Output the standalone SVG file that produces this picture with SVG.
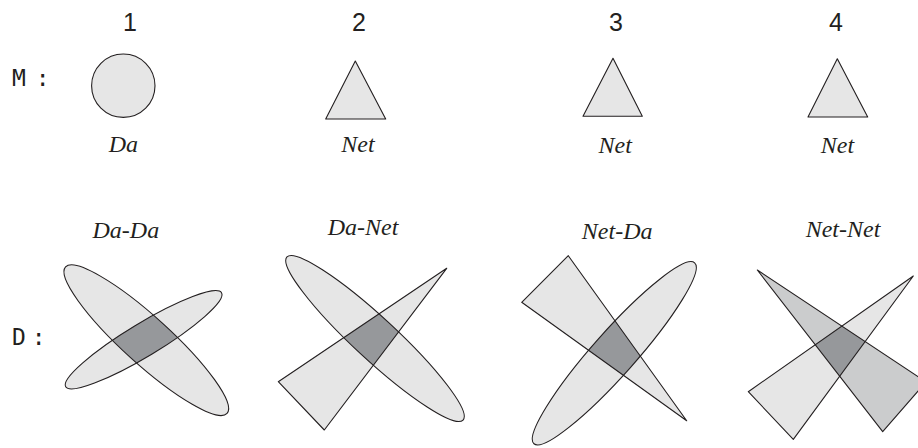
<svg xmlns="http://www.w3.org/2000/svg" width="918" height="448" viewBox="0 0 918 448">
<style>
.s{stroke:#231f20;stroke-width:1.1;stroke-linejoin:round}
.lt{fill:#e6e6e6}
.md{fill:#cbcccd}
.dk{fill:#96989b}
.no{fill:none}
.num{font-family:"Liberation Sans",Arial,sans-serif;font-size:25px;fill:#231f20;text-anchor:middle}
.lab{font-family:"Liberation Serif","Times New Roman",serif;font-style:italic;font-size:24px;fill:#231f20;text-anchor:middle}
.row{font-family:"DejaVu Sans Mono","Liberation Mono",monospace;font-size:23px;fill:#231f20}
</style>
<defs>
<ellipse id="e1a" cx="0" cy="0" rx="109" ry="23.5" transform="translate(146.3,340.2) rotate(42.2)"/>
<ellipse id="e1b" cx="0" cy="0" rx="91" ry="16.5" transform="translate(143.6,339.8) rotate(-31.1)"/>
<ellipse id="e2" cx="0" cy="0" rx="120" ry="21" transform="translate(375,338.5) rotate(42.8)"/>
<polygon id="t2" points="446.7,268.3 278.3,381.7 324.3,430"/>
<ellipse id="e3" cx="0" cy="0" rx="121" ry="21.5" transform="translate(614.3,353.3) rotate(-48.4)"/>
<polygon id="t3" points="686.7,420.7 521.7,302.3 568.3,255.7"/>
<polygon id="t4a" points="757.3,270 882.7,431.7 926,382"/>
<polygon id="t4b" points="913.3,276 748.3,391.7 793.3,439.3"/>
<clipPath id="c1"><use href="#e1a"/></clipPath>
<clipPath id="c2"><use href="#e2"/></clipPath>
<clipPath id="c3"><use href="#e3"/></clipPath>
<clipPath id="c4"><use href="#t4a"/></clipPath>
</defs>

<g id="headers">
<text class="num" x="130" y="31">1</text>
<text class="num" x="359" y="31">2</text>
<text class="num" x="616" y="31">3</text>
<text class="num" x="836" y="31">4</text>
<text class="row" x="12" y="86" letter-spacing="-2" xml:space="preserve">M :</text>
<text class="row" x="12" y="345" letter-spacing="-4" xml:space="preserve">D :</text>
</g>

<g id="m1">
<circle class="lt s" cx="123.3" cy="85.7" r="31.7"/>
<text class="lab" x="123.3" y="152">Da</text>
</g>
<g id="m2">
<polygon class="lt s" points="355.3,61 325.7,119 385.7,119"/>
<text class="lab" x="358" y="152">Net</text>
</g>
<g id="m3">
<polygon class="lt s" points="613,58.3 583,116.3 642.3,116.3"/>
<text class="lab" x="615.2" y="152.7">Net</text>
</g>
<g id="m4">
<polygon class="lt s" points="837.3,58.7 808,117 867.7,117"/>
<text class="lab" x="837.5" y="152.7">Net</text>
</g>

<g id="d1">
<text class="lab" x="125.8" y="238.3">Da-Da</text>
<use href="#e1a" class="lt"/>
<use href="#e1b" class="lt"/>
<use href="#e1b" class="dk" clip-path="url(#c1)"/>
<use href="#e1a" class="no s"/>
<use href="#e1b" class="no s"/>
</g>
<g id="d2">
<text class="lab" x="363" y="235">Da-Net</text>
<use href="#e2" class="lt"/>
<use href="#t2" class="lt"/>
<use href="#t2" class="dk" clip-path="url(#c2)"/>
<use href="#e2" class="no s"/>
<use href="#t2" class="no s"/>
</g>
<g id="d3">
<text class="lab" x="617.2" y="239">Net-Da</text>
<use href="#t3" class="lt"/>
<use href="#e3" class="lt"/>
<use href="#t3" class="dk" clip-path="url(#c3)"/>
<use href="#t3" class="no s"/>
<use href="#e3" class="no s"/>
</g>
<g id="d4">
<text class="lab" x="843" y="236.7">Net-Net</text>
<use href="#t4a" class="md"/>
<use href="#t4b" class="lt"/>
<use href="#t4b" class="dk" clip-path="url(#c4)"/>
<use href="#t4a" class="no s"/>
<use href="#t4b" class="no s"/>
</g>
<g id="connectors"/>
</svg>
